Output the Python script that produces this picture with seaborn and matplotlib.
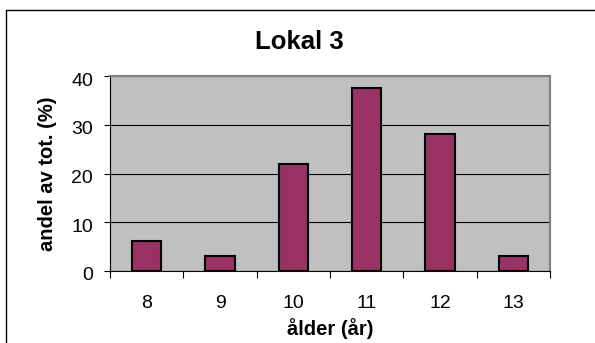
import matplotlib
matplotlib.use("Agg")
import matplotlib.pyplot as plt
import matplotlib.transforms as mtransforms
import seaborn as sns
import pandas as pd
from matplotlib.lines import Line2D
from matplotlib.ticker import FixedLocator

ages = ["8", "9", "10", "11", "12", "13"]
share = [6.25, 3.125, 21.875, 37.5, 28.125, 3.125]

df = pd.DataFrame({"age": ages, "share": share})

sns.set_style("white", {"text.color": "black", "xtick.color": "black",
                        "ytick.color": "black", "axes.labelcolor": "black"})
plt.rcParams["font.family"] = ["Liberation Sans", "DejaVu Sans"]

W, H = 595, 343
fig = plt.figure(figsize=(W / 100, H / 100), dpi=100)
ax = fig.add_axes([110 / W, 1 - 271 / H, 440 / W, 195 / H])

sns.barplot(data=df, x="age", y="share", color="#993366", width=0.4,
            edgecolor="black", linewidth=1.5, saturation=1, ax=ax)

ax.set_facecolor("#c0c0c0")
ax.set_xlim(-0.5, 5.5)
ax.set_ylim(0, 40)
ax.set_yticks([0, 10, 20, 30, 40])
ax.yaxis.grid(True, color="black", linewidth=0.8)
ax.set_axisbelow(True)
for s in ["top", "right"]:
    ax.spines[s].set_color("#808080")
    ax.spines[s].set_linewidth(1.5)
for s in ["left", "bottom"]:
    ax.spines[s].set_color("black")
    ax.spines[s].set_linewidth(0.8)

ax.tick_params(axis="x", length=0, labelsize=14, pad=17, labelcolor="black")
ax.tick_params(axis="y", length=4.3, width=0.8, direction="out", labelsize=14, pad=8,
               left=True, color="black", labelcolor="black")
ax.xaxis.set_minor_locator(FixedLocator([-0.5, 0.5, 1.5, 2.5, 3.5, 4.5, 5.5]))
ax.tick_params(axis="x", which="minor", length=5, width=0.8, direction="out",
               bottom=True, color="black")
shift = mtransforms.ScaledTranslation(0, -0.03, fig.dpi_scale_trans)
for lab in ax.get_yticklabels():
    lab.set_transform(lab.get_transform() + shift)

ax.set_xlabel("")
ax.set_ylabel("")
fig.text(330 / W, 1 - 335 / H, "ålder (år)", fontsize=14.5, fontweight="bold",
         ha="center", va="baseline", color="black")
fig.text(53 / W, 1 - 174 / H, "andel av tot. (%)", fontsize=14.5, fontweight="bold",
         ha="center", va="baseline", rotation=90, rotation_mode="anchor", color="black")
fig.text(299 / W, 1 - 49 / H, "Lokal 3", fontsize=18.5, fontweight="bold",
         ha="center", va="baseline", color="black")

# chart area border (only left and top edges fall inside the image)
fig.add_artist(Line2D([5.5 / W, 5.5 / W], [0, 1 - 10 / H], transform=fig.transFigure,
                      color="black", linewidth=1))
fig.add_artist(Line2D([5.5 / W, 1], [1 - 10 / H, 1 - 10 / H], transform=fig.transFigure,
                      color="black", linewidth=1))

fig.savefig("out.png", dpi=100)
